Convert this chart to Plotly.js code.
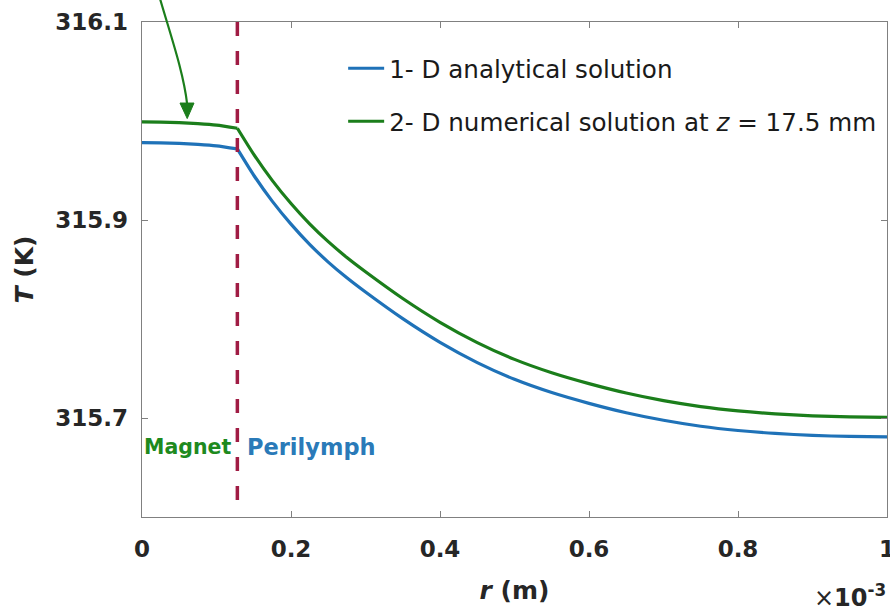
<!DOCTYPE html>
<html>
<head>
<meta charset="utf-8">
<script src="https://cdn.plot.ly/plotly-3.0.1.min.js"></script>
<style>html,body{margin:0;padding:0;background:#fff;}#chart{width:890px;height:611px;}</style>
</head>
<body>
<div id="chart"></div>
<script>
// radial position r in units of 1e-3 m
const rValues = [0, 0.025, 0.05, 0.075, 0.1, 0.128, 0.15, 0.175, 0.2, 0.225, 0.25, 0.275, 0.3, 0.35, 0.4, 0.45, 0.5, 0.55, 0.6, 0.65, 0.7, 0.75, 0.8, 0.85, 0.9, 0.95, 1.0];
// 1-D analytical solution, T (K)
const analytical1D = [315.9782, 315.9780, 315.9774, 315.9764, 315.9749, 315.9718, 315.9452, 315.9188, 315.8958, 315.8754, 315.8575, 315.8416, 315.8272, 315.8003, 315.7764, 315.7560, 315.7391, 315.7257, 315.7148, 315.7053, 315.6977, 315.6917, 315.6874, 315.6844, 315.6824, 315.6814, 315.6810];
// 2-D numerical solution at z = 17.5 mm, T (K)
const numerical2D = [315.9991, 315.9989, 315.9983, 315.9973, 315.9958, 315.9927, 315.9663, 315.9398, 315.9166, 315.8961, 315.8781, 315.8621, 315.8477, 315.8207, 315.7967, 315.7762, 315.7592, 315.7457, 315.7347, 315.7252, 315.7175, 315.7115, 315.7072, 315.7042, 315.7022, 315.7011, 315.7007];
const seriesNames = ['1- D analytical solution', '2- D numerical solution at <i>z</i> = 17.5 mm'];
const xTickVals = [0, 0.2, 0.4, 0.6, 0.8, 1];
const xTickText = ['0', '0.2', '0.4', '0.6', '0.8', '1'];
const yTickVals = [315.7, 315.9, 316.1];
const yTickText = ['315.7', '315.9', '316.1'];
const interfaceR = 0.128; // magnet / perilymph boundary
const xRange = [0, 1];
const yRange = [315.6, 316.1];

const FONT = 'DejaVu Sans';
const blue = '#1f72b8';
const green = '#1b7e1b';
const axisGray = '#808080';

// each series is drawn in two pieces (magnet | perilymph) so the kink at the interface stays sharp
const k = rValues.indexOf(interfaceR);
function seriesTraces(yVals, name, color, group) {
  return [
    {x: rValues.slice(k), y: yVals.slice(k), name: name, type: 'scatter', mode: 'lines',
     line: {color: color, width: 3.2, shape: 'spline', smoothing: 0.6}, legendgroup: group},
    {x: rValues.slice(0, k + 1), y: yVals.slice(0, k + 1), name: name, type: 'scatter', mode: 'lines',
     line: {color: color, width: 3.2, shape: 'spline', smoothing: 0.6}, legendgroup: group, showlegend: false}
  ];
}
const traces = [].concat(
  seriesTraces(analytical1D, seriesNames[0], blue, 'a'),
  seriesTraces(numerical2D, seriesNames[1], green, 'b')
);

const layout = {
  width: 890, height: 611,
  margin: {l: 142, r: 3, t: 22, b: 94},
  paper_bgcolor: '#fff', plot_bgcolor: '#fff',
  font: {family: FONT, color: '#262626'},
  showlegend: true,
  legend: {x: 0.27, y: 0.952, xanchor: 'left', yanchor: 'top', bgcolor: 'rgba(0,0,0,0)', itemwidth: 36,
           font: {family: FONT, size: 24.6, color: '#1a1a1a'}, traceorder: 'grouped', tracegroupgap: 18},
  xaxis: {range: xRange, tickvals: xTickVals, ticktext: xTickText, ticks: 'inside', ticklen: 6,
          tickcolor: axisGray, showline: true, linecolor: axisGray, linewidth: 1.3, mirror: 'ticks',
          showgrid: false, zeroline: false, ticklabelstandoff: 11, ticklabeloverflow: 'allow',
          tickfont: {family: FONT, size: 23, color: '#262626', weight: 'bold'},
          title: {text: '<i>r</i> (m)', standoff: 20, font: {family: FONT, size: 25, color: '#262626', weight: 'bold'}}},
  yaxis: {range: yRange, tickvals: yTickVals, ticktext: yTickText, ticks: 'inside', ticklen: 6,
          tickcolor: axisGray, showline: true, linecolor: axisGray, linewidth: 1.3, mirror: 'ticks',
          showgrid: false, zeroline: false, ticklabelstandoff: 8,
          tickfont: {family: FONT, size: 23, color: '#262626', weight: 'bold'},
          title: {text: '<i>T</i> (K)', standoff: 14, font: {family: FONT, size: 25, color: '#262626', weight: 'bold'}}},
  shapes: [
    {type: 'line', xref: 'x', yref: 'y', x0: interfaceR, x1: interfaceR, y0: yRange[1], y1: 315.6100,
     line: {color: '#a01c44', width: 3.5, dash: '14px,15px'}},
    {type: 'path', xref: 'paper', yref: 'paper',
     path: 'M 0.0235 1.0505 C 0.0383 0.9737 0.0557 0.8989 0.0606 0.8342',
     line: {color: green, width: 2.2}},
    {type: 'path', xref: 'paper', yref: 'paper',
     path: 'M 0.0607 0.8049 L 0.0510 0.8363 L 0.0698 0.8363 Z',
     fillcolor: green, line: {color: green, width: 1}}
  ],
  annotations: [
    {text: 'Magnet', xref: 'x', yref: 'y', x: interfaceR, y: 315.6711, xanchor: 'right', yanchor: 'middle',
     xshift: -4, showarrow: false, font: {family: FONT, size: 20.5, color: '#1e8a1e', weight: 'bold'}},
    {text: 'Perilymph', xref: 'x', yref: 'y', x: interfaceR, y: 315.6711, xanchor: 'left', yanchor: 'middle',
     xshift: 8, showarrow: false, font: {family: FONT, size: 22.5, color: '#2a7ab8', weight: 'bold'}},
    {text: '×<b>10<sup>-3</sup></b>', xref: 'paper', yref: 'paper', x: 1.002, y: -0.19, xanchor: 'right', yanchor: 'bottom',
     yshift: -3, showarrow: false, font: {family: FONT, size: 24, color: '#262626'}}
  ]
};

Plotly.newPlot('chart', traces, layout, {displayModeBar: false, staticPlot: true});
</script>
</body>
</html>
